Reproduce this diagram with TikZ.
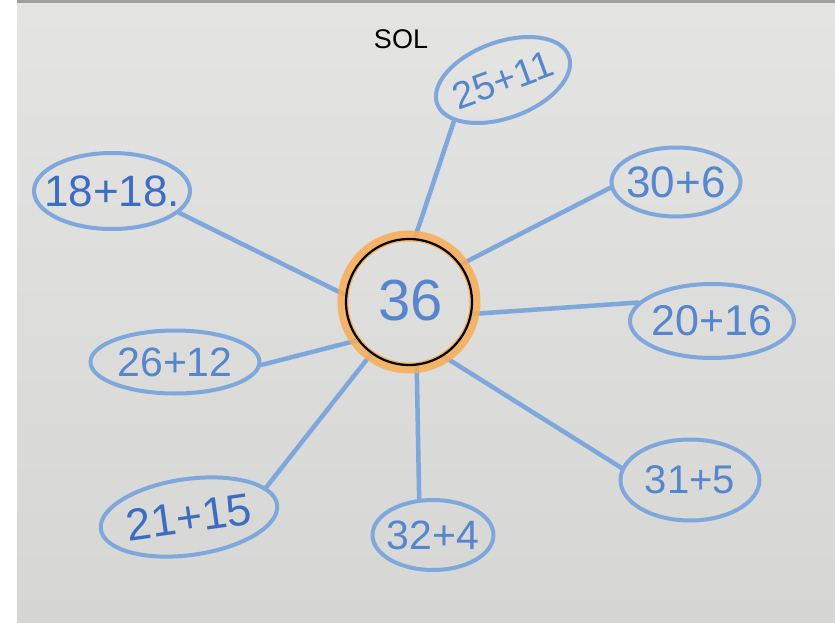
\documentclass[tikz,border=0pt]{standalone}
\usepackage{fontspec}
\setmainfont{Liberation Sans}
\usetikzlibrary{shapes.geometric}
\definecolor{papertop}{HTML}{E4E4E2}
\definecolor{papermid}{HTML}{EEEEEC}
\definecolor{paperlow}{HTML}{D6D6D4}
\definecolor{penblue}{HTML}{7EA7DC}
\definecolor{inkblue}{HTML}{5586CE}
\definecolor{darkink}{HTML}{3C6DC2}
\definecolor{ringorange}{HTML}{F8AC55}
\tikzset{
  bubble/.style={ellipse, draw=penblue, line width=4pt, inner sep=0pt},
  sumtext/.style={text=inkblue, inner sep=0pt},
  spoke/.style={draw=penblue, line width=4.5pt, line cap=round},
}
\begin{document}
\begin{tikzpicture}[x=1pt,y=-1pt]
\useasboundingbox (0,0) rectangle (835,623);
\fill[white] (0,0) rectangle (835,623);
\shade[top color=papertop, middle color=papermid, bottom color=paperlow] (17,3) rectangle (835,623);
\fill[gray!75] (17,0) rectangle (835,3);

% title
\node (sol) at (401,39) {\fontsize{27}{27}\selectfont SOL};

% centre
\coordinate (cc) at (409,302);
\node[circle, minimum size=126pt, inner sep=0pt] (c) at (cc) {};

% outer bubbles (outline) and their sums
\node[bubble, minimum width=140pt, minimum height=76pt, rotate=20] (a) at (503,80) {};
\node[sumtext, rotate=20] (at) at (a) {\fontsize{38}{38}\selectfont 25+11};
\node[bubble, minimum width=156pt, minimum height=76pt] (b) at (112,191) {};
\node[sumtext, text=darkink] (bt) at (b) {\fontsize{44}{44}\selectfont 18+18.};
\node[bubble, minimum width=129pt, minimum height=69pt] (d) at (676,182) {};
\node[sumtext] (dt) at (d) {\fontsize{44}{44}\selectfont 30+6};
\node[bubble, minimum width=164pt, minimum height=74pt] (e) at (712,321) {};
\node[sumtext] (et) at (e) {\fontsize{43}{43}\selectfont 20+16};
\node[bubble, minimum width=169pt, minimum height=63pt] (f) at (175,362) {};
\node[sumtext] (ft) at (f) {\fontsize{41}{41}\selectfont 26+12};
\node[bubble, minimum width=178pt, minimum height=76pt, rotate=8] (g) at (189,517) {};
\node[sumtext, rotate=8, text=darkink] (gt) at (g) {\fontsize{45}{45}\selectfont 21+15};
\node[bubble, minimum width=121pt, minimum height=70pt] (h) at (433,535) {};
\node[sumtext] (ht) at (h) {\fontsize{41}{41}\selectfont 32+4};
\node[bubble, minimum width=139pt, minimum height=81pt] (i) at (690,480) {};
\node[sumtext] (it) at (i) {\fontsize{40}{40}\selectfont 31+5};

% spokes
\draw[spoke] (a.200) -- (c.85);
\draw[spoke] (b.342) -- (c.174);
\draw[spoke] (d.185) -- (c.36);
\draw[spoke] (e.166) -- (c.349);
\draw[spoke] (f.358) -- (c.217);
\draw[spoke] (g.13) -- (c.234);
\draw[spoke] (h.111) -- (c.277);
\draw[spoke] (i.170) -- (c.302);

% orange ring and black circle
\draw[ringorange, line width=11pt, opacity=0.85] (cc) circle (66);
\draw[black, line width=2.2pt] (cc) circle (63);
\node[text=inkblue] (n36) at (411,301) {\fontsize{58}{58}\selectfont 36};
\end{tikzpicture}
\end{document}
